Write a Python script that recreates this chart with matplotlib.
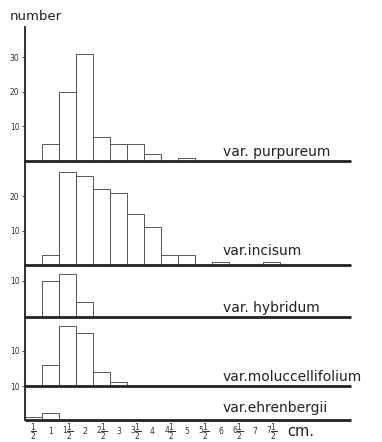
import matplotlib
matplotlib.use("Agg")
import matplotlib.pyplot as plt
import numpy as np

# bin centres (cm), one bin per half centimetre
sizes = [0.5, 1, 1.5, 2, 2.5, 3, 3.5, 4, 4.5, 5, 5.5, 6, 6.5, 7, 7.5]

purpureum = [0, 5, 20, 31, 7, 5, 5, 2, 0, 1, 0, 0, 0, 0, 0]
incisum = [0, 3, 27, 26, 22, 21, 15, 11, 3, 3, 0, 1, 0, 0, 1]
hybridum = [0, 10, 12, 4, 0, 0, 0, 0, 0, 0, 0, 0, 0, 0, 0]
moluccellifolium = [0, 6, 17, 15, 4, 1, 0, 0, 0, 0, 0, 0, 0, 0, 0]
ehrenbergii = [1, 2, 0, 0, 0, 0, 0, 0, 0, 0, 0, 0, 0, 0, 0]

names = ["var. purpureum", "var.incisum", "var. hybridum",
         "var.moluccellifolium", "var.ehrenbergii"]
series = [purpureum, incisum, hybridum, moluccellifolium, ehrenbergii]
yticks = [[10, 20, 30], [10, 20], [10], [10], [10]]

x_labels = [r"$\dfrac{1}{2}$", "1", r"$1\dfrac{1}{2}$", "2", r"$2\dfrac{1}{2}$", "3",
            r"$3\dfrac{1}{2}$", "4", r"$4\dfrac{1}{2}$", "5", r"$5\dfrac{1}{2}$", "6",
            r"$6\dfrac{1}{2}$", "7", r"$7\dfrac{1}{2}$"]

W, H = 382, 442
fig = plt.figure(figsize=(W / 100, H / 100), dpi=100)

# panel layout in pixels: (top, bottom, ymax), label y in data units
panels = [(27, 161, 38.8, 2.6), (161, 265, 30.3, 4.1), (265, 316.5, 14.4, 2.5),
          (316.5, 386, 19.6, 2.5), (386, 420, 10.0, 3.6)]
x_left, x_right = 25, 351
px_per_cm = 34.0
xmin = 0.25
xmax = xmin + (x_right - x_left) / px_per_cm

axes = []
for i, (top, bot, ymax, ylab) in enumerate(panels):
    ax = fig.add_axes([x_left / W, 1 - bot / H, (x_right - x_left) / W, (bot - top) / H])
    ax.patch.set_visible(False)
    ax.bar(sizes, series[i], width=0.5, align="center", color="white",
           edgecolor="#555555", linewidth=0.7, zorder=2)
    ax.set_xlim(xmin, xmax)
    ax.set_ylim(0, ymax)
    for s in ["top", "right"]:
        ax.spines[s].set_visible(False)
    ax.spines["bottom"].set_linewidth(2.0)
    ax.spines["bottom"].set_color("#222222")
    ax.spines["bottom"].set_zorder(3)
    ax.spines["bottom"].set_capstyle("butt")
    ax.spines["left"].set_linewidth(1.3)
    ax.spines["left"].set_color("#222222")
    ax.set_yticks(yticks[i])
    ax.tick_params(axis="y", direction="out", length=2.5, width=0.6,
                   labelsize=5.5, pad=1.5, colors="#333333")
    ax.tick_params(axis="x", length=0)
    ax.set_xticks([])
    ax.text(6.07, ylab, names[i], fontsize=10, color="#222222",
            ha="left", va="center")
    axes.append(ax)

ax = axes[-1]
ax.set_xticks(sizes)
ax.set_xticklabels(x_labels, fontsize=5.5, color="#333333", va="center")
ax.tick_params(axis="x", length=0, pad=8.3)
fig.text(287 / W, 1 - 432 / H, "cm.", fontsize=10.5, color="#222222",
         ha="left", va="center")
fig.text(10 / W, 1 - 17 / H, "number", fontsize=9.5, color="#222222",
         ha="left", va="center")

fig.savefig("out.png", dpi=100)
